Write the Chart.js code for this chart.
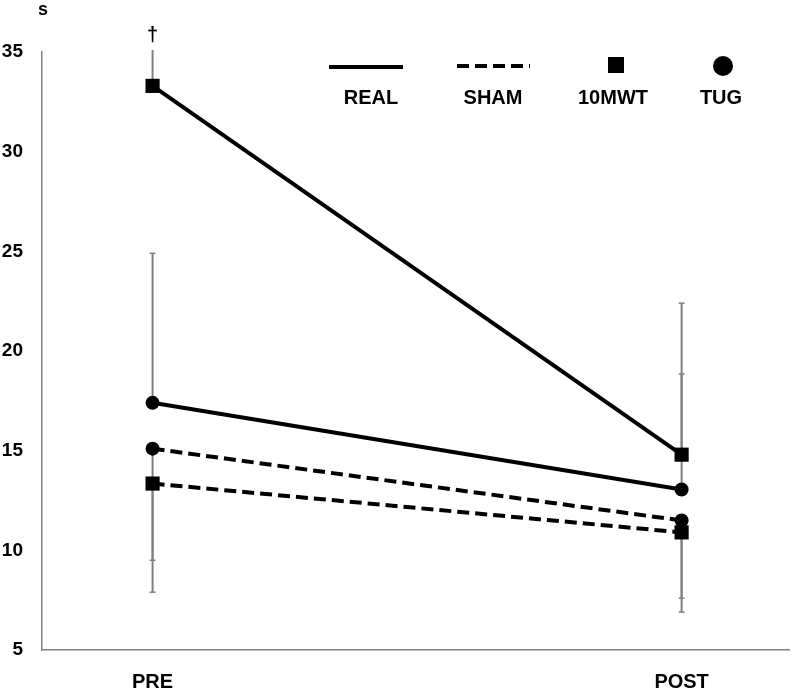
<!DOCTYPE html>
<html>
<head>
<meta charset="utf-8">
<script src="https://cdn.jsdelivr.net/npm/chart.js@4.4.0/dist/chart.umd.min.js"></script>
<style>
  html, body { margin: 0; padding: 0; background: #fff; }
  #wrap { width: 799px; height: 693px; position: relative; }
</style>
</head>
<body>
<div id="wrap"><canvas id="chart" width="799" height="693"></canvas></div>
<script>
// Time points and tick labels
const timePoints = ['PRE', 'POST'];
const yTicks = [5, 10, 15, 20, 25, 30, 35];

// Mean values (s)
const real10mwt = [33.3, 14.8];
const realTug = [17.4, 13.05];
const sham10mwt = [13.35, 10.9];
const shamTug = [15.1, 11.5];

// Error bars: REAL shown upward, SHAM shown downward
const real10mwtErrUp = [3.0, 7.6];
const realTugErrUp = [7.5, 5.8];
const sham10mwtErrDown = [5.45, 4.0];
const shamTugErrDown = [5.6, 3.9];

// Legend entries
const legendItems = ['REAL', 'SHAM', '10MWT', 'TUG'];
const pvalueMark = '†';

const FONT = "'Liberation Sans', Arial, sans-serif";

function toPoints(values) {
    return values.map((v, i) => ({ x: i, y: v }));
}

function makeSet(label, values, dashed, shape, up, down) {
    return {
        label: label,
        data: toPoints(values),
        borderColor: '#000',
        backgroundColor: '#000',
        borderWidth: 4,
        borderDash: dashed ? [12, 6] : [],
        pointStyle: shape,
        pointRadius: shape === 'rect' ? 10 : 7,
        pointBackgroundColor: '#000',
        pointBorderWidth: 0,
        errUp: up,
        errDown: down,
        tension: 0
    };
}

// Draw gray error bars behind the lines
const errorBars = {
    id: 'errorBars',
    beforeDatasetsDraw(chart) {
        const ctx = chart.ctx;
        const xs = chart.scales.x, ys = chart.scales.y;
        const area = chart.chartArea;
        ctx.save();
        ctx.beginPath();
        ctx.rect(area.left, area.top - 2, area.right - area.left, area.bottom - area.top + 4);
        ctx.clip();
        ctx.strokeStyle = '#808080';
        chart.data.datasets.forEach(ds => {
            ds.data.forEach((p, i) => {
                const x = xs.getPixelForValue(p.x);
                const y0 = ys.getPixelForValue(p.y);
                const ends = [];
                if (ds.errUp) ends.push(p.y + ds.errUp[i]);
                if (ds.errDown) ends.push(p.y - ds.errDown[i]);
                ends.forEach(v => {
                    const y1 = ys.getPixelForValue(v);
                    ctx.lineWidth = 2;
                    ctx.beginPath();
                    ctx.moveTo(x, y0);
                    ctx.lineTo(x, y1);
                    ctx.stroke();
                    if (v <= ys.max) {
                        ctx.lineWidth = 1.5;
                        ctx.beginPath();
                        ctx.moveTo(x - 3, y1);
                        ctx.lineTo(x + 3, y1);
                        ctx.stroke();
                    }
                });
            });
        });
        ctx.restore();
    }
};

// Legend with symbols above the labels, unit label and dagger
const extras = {
    id: 'extras',
    afterDraw(chart) {
        const ctx = chart.ctx;
        const xs = chart.scales.x;
        ctx.save();
        ctx.fillStyle = '#000';
        ctx.strokeStyle = '#000';
        ctx.font = 'bold 18px ' + FONT;
        ctx.textAlign = 'center';
        ctx.textBaseline = 'middle';
        ctx.fillText('s', 43, 10);

        ctx.font = 'bold 20px ' + FONT;
        ctx.fillText(pvalueMark, xs.getPixelForValue(0), chart.chartArea.top - 17);

        // legend symbols
        ctx.lineWidth = 4;
        ctx.beginPath();
        ctx.moveTo(329, 67);
        ctx.lineTo(403, 67);
        ctx.stroke();
        ctx.setLineDash([12, 6]);
        ctx.beginPath();
        ctx.moveTo(457, 66);
        ctx.lineTo(530, 66);
        ctx.stroke();
        ctx.setLineDash([]);
        ctx.fillRect(608, 57, 16, 16);
        ctx.beginPath();
        ctx.arc(723, 66, 10, 0, Math.PI * 2);
        ctx.fill();

        const lx = [371, 493, 613, 721];
        ctx.font = 'bold 20px ' + FONT;
        legendItems.forEach((t, i) => ctx.fillText(t, lx[i], 98));
        ctx.restore();
    }
};

const ctx = document.getElementById('chart').getContext('2d');
new Chart(ctx, {
    type: 'line',
    data: {
        datasets: [
            makeSet('REAL 10MWT', real10mwt, false, 'rect', real10mwtErrUp, null),
            makeSet('REAL TUG', realTug, false, 'circle', realTugErrUp, null),
            makeSet('SHAM 10MWT', sham10mwt, true, 'rect', null, sham10mwtErrDown),
            makeSet('SHAM TUG', shamTug, true, 'circle', null, shamTugErrDown)
        ]
    },
    options: {
        responsive: false,
        animation: false,
        layout: { padding: { top: 52, left: 0, right: 0, bottom: 0 } },
        plugins: {
            legend: { display: false },
            tooltip: { enabled: false }
        },
        scales: {
            x: {
                type: 'linear',
                min: -0.209,
                max: 1.203,
                afterBuildTicks: scale => { scale.ticks = timePoints.map((t, i) => ({ value: i })); },
                afterFit: scale => { scale.height = 43; },
                grid: { display: false, drawTicks: false },
                border: { color: '#808080', width: 1.5 },
                ticks: {
                    padding: 20,
                    color: '#000',
                    font: { family: FONT, size: 20, weight: 'bold' },
                    callback: v => timePoints[v]
                }
            },
            y: {
                min: 5,
                max: 35,
                afterBuildTicks: scale => { scale.ticks = yTicks.map(v => ({ value: v })); },
                afterFit: scale => { scale.width = 42; },
                grid: { display: false, drawTicks: false },
                border: { color: '#808080', width: 1.5 },
                ticks: {
                    padding: 19,
                    color: '#000',
                    font: { family: FONT, size: 19, weight: 'bold' }
                }
            }
        }
    },
    plugins: [errorBars, extras]
});
</script>
</body>
</html>
